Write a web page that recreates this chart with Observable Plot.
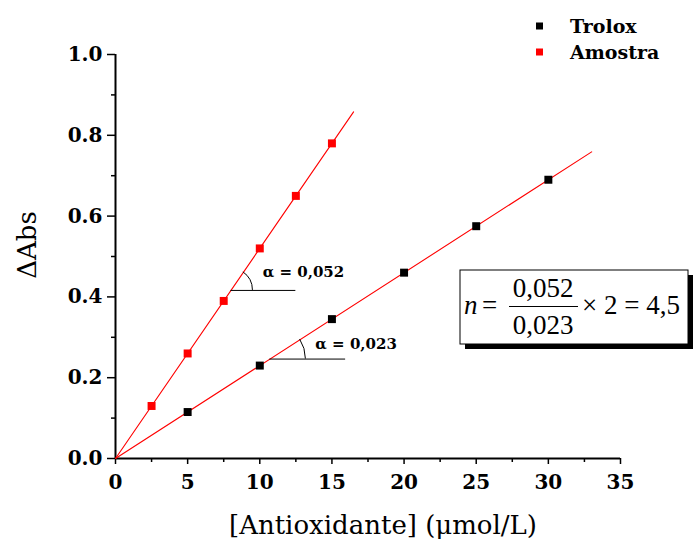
<!DOCTYPE html>
<html><head><meta charset="utf-8">
<script src="https://cdn.jsdelivr.net/npm/d3@7"></script>
<script src="https://cdn.jsdelivr.net/npm/@observablehq/plot@0.6"></script>
<style>body{margin:0;background:#fff}#chart{position:relative;width:693px;height:545px}</style>
</head><body><div id="chart"></div>
<script>
// ---- data ----
const seriesNames = ["Trolox", "Amostra"];
const seriesColors = ["#000000", "#ff0000"];
const troloxConc = [5, 10, 15, 20, 25, 30];
const troloxAbs = [0.115, 0.23, 0.345, 0.46, 0.575, 0.69];
const amostraConc = [2.5, 5, 7.5, 10, 12.5, 15];
const amostraAbs = [0.13, 0.26, 0.39, 0.52, 0.65, 0.78];
const slopes = [0.023, 0.052];
const fitEnds = [33, 16.5];
const slopeLabels = ["α = 0,023", "α = 0,052"];
const angleAnchorX = [10.7, 8.0];
const angleRuleEnd = [15.95, 12.5];
const slopeLabelX = [13.85, 10.2];
const slopeLabelY = [0.27, 0.449];
const xTicks = [0, 5, 10, 15, 20, 25, 30, 35];
const xMinor = [2.5, 7.5, 12.5, 17.5, 22.5, 27.5, 32.5];
const yTicks = [0, 0.2, 0.4, 0.6, 0.8, 1.0];
const yMinor = [0.1, 0.3, 0.5, 0.7, 0.9];
const xLabel = "[Antioxidante] (μmol/L)";
const yLabel = "ΔAbs";

// ---- tables ----
const points = [
  ...troloxConc.map((x, i) => ({x, y: troloxAbs[i], s: seriesNames[0]})),
  ...amostraConc.map((x, i) => ({x, y: amostraAbs[i], s: seriesNames[1]}))
];
const fits = slopes.flatMap((m, i) => [
  {x: 0, y: 0, s: seriesNames[i]},
  {x: fitEnds[i], y: m * fitEnds[i], s: seriesNames[i]}
]);
const angleRules = slopes.map((m, i) => ({x1: angleAnchorX[i], x2: angleRuleEnd[i], y: m * angleAnchorX[i]}));
const angleTexts = slopes.map((m, i) => ({x: slopeLabelX[i], y: slopeLabelY[i], t: slopeLabels[i]}));
const arcRadius = [36, 22];

const serifB = "DejaVu Serif";

function arcs(index, scales) {
  const g = d3.create("svg:g").attr("fill", "none").attr("stroke", "#000").attr("stroke-width", 1);
  slopes.forEach((m, i) => {
    const cx = scales.x(angleAnchorX[i]), cy = scales.y(m * angleAnchorX[i]);
    const dx = scales.x(1) - scales.x(0), dy = scales.y(0) - scales.y(m);
    const th = Math.atan2(dy, dx), r = arcRadius[i];
    g.append("path").attr("d", `M${cx + r},${cy} A${r},${r} 0 0 0 ${cx + r * Math.cos(th)},${cy - r * Math.sin(th)}`);
  });
  return g.node();
}

const plot = Plot.plot({
  width: 693, height: 545,
  marginLeft: 115, marginRight: 73, marginTop: 54, marginBottom: 87,
  style: {fontFamily: serifB, background: "#fff", overflow: "visible"},
  x: {domain: [0, 35]},
  y: {domain: [0, 1]},
  color: {domain: seriesNames, range: seriesColors},
  marks: [
    Plot.axisX({ticks: xMinor, tickSize: 4, text: null, strokeWidth: 1.5, label: null}),
    Plot.axisX({ticks: xTicks, tickSize: 6, tickPadding: 10, strokeWidth: 1.5, fontSize: 20, fontWeight: "bold", fill: "#000", label: null, tickFormat: d => d}),
    Plot.axisY({ticks: yMinor, tickSize: 4, text: null, strokeWidth: 1.5, label: null}),
    Plot.axisY({ticks: yTicks, tickSize: 8, tickPadding: 5, strokeWidth: 1.5, fontSize: 20, fontWeight: "bold", fill: "#000", label: null, tickFormat: d3.format(".1f")}),
    Plot.ruleY([0], {stroke: "#000", strokeWidth: 2}),
    Plot.ruleX([0], {y1: 0, y2: 1, stroke: "#000", strokeWidth: 2}),
    Plot.line(fits, {x: "x", y: "y", z: "s", stroke: "#ff0000", strokeWidth: 1.1}),
    Plot.dot(points, {x: "x", y: "y", fill: "s", symbol: "square", r: 4.5, stroke: null}),
    Plot.ruleY(angleRules, {x1: "x1", x2: "x2", y: "y", stroke: "#000", strokeWidth: 1}),
    arcs,
    Plot.text(angleTexts, {x: "x", y: "y", text: "t", textAnchor: "start", lineAnchor: "bottom", fontSize: 15, fontWeight: "bold", fill: "#000", fontFamily: serifB})
  ]
});
document.getElementById("chart").appendChild(plot);

// ---- annotations: axis titles, legend, formula box ----
const svg = d3.select(plot);
svg.append("text").attr("x", 383).attr("y", 534).attr("text-anchor", "middle")
  .attr("font-family", serifB).attr("font-size", 26).attr("fill", "#000").text(xLabel);
svg.append("text").attr("transform", "translate(36,245) rotate(-90)").attr("text-anchor", "middle")
  .attr("font-family", serifB).attr("font-size", 26).attr("fill", "#000").text(yLabel);

const legY = [26, 52];
seriesNames.forEach((n, i) => {
  svg.append("rect").attr("x", 536).attr("y", legY[i] - 3.5).attr("width", 7).attr("height", 7).attr("fill", seriesColors[i]);
  svg.append("text").attr("x", 570).attr("y", legY[i] + 7).attr("text-anchor", "start").attr("font-family", serifB).attr("font-weight", "bold")
    .attr("font-size", 19).attr("fill", "#000").text(n);
});

const box = svg.append("g").attr("font-family", "'Liberation Serif', 'Times New Roman', serif").attr("font-size", 27).attr("fill", "#000").attr("text-anchor", "start");
box.append("rect").attr("x", 465).attr("y", 275).attr("width", 229).attr("height", 74).attr("fill", "#000");
box.append("rect").attr("x", 460).attr("y", 270).attr("width", 228).attr("height", 74).attr("fill", "#fff").attr("stroke", "#000").attr("stroke-width", 1);
box.append("text").attr("x", 464).attr("y", 314).attr("font-style", "italic").text("n");
box.append("text").attr("x", 482).attr("y", 314).text("=");
box.append("text").attr("x", 543).attr("y", 297).attr("text-anchor", "middle").text("0,052");
box.append("line").attr("x1", 509).attr("x2", 578).attr("y1", 306.5).attr("y2", 306.5).attr("stroke", "#000").attr("stroke-width", 1.2);
box.append("text").attr("x", 543).attr("y", 334).attr("text-anchor", "middle").text("0,023");
box.append("text").attr("x", 582).attr("y", 314).text("× 2 = 4,5");
</script></body></html>
